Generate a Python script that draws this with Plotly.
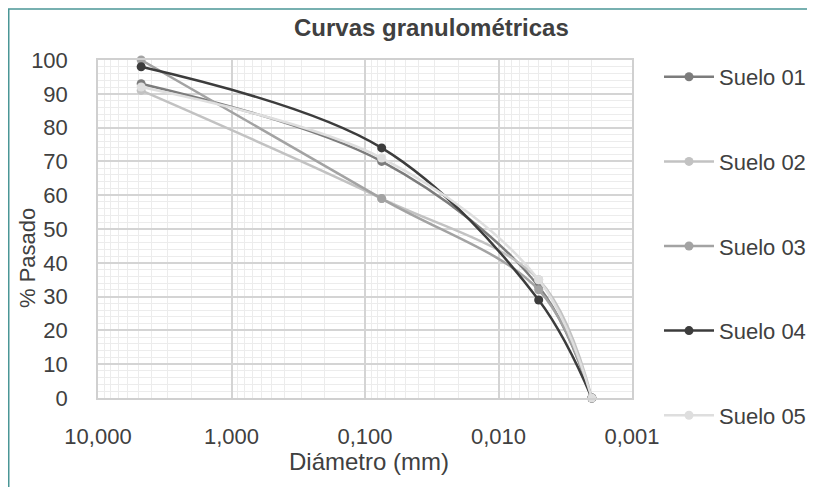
import plotly.graph_objects as go

# Data
diametro = [4.75, 0.075, 0.005, 0.002]
series_names = ["Suelo 01", "Suelo 02", "Suelo 03", "Suelo 04", "Suelo 05"]
suelo_01 = [93, 70, 33, 0]
suelo_02 = [91, 59, 35, 0]
suelo_03 = [100, 59, 32, 0]
suelo_04 = [98, 74, 29, 0]
suelo_05 = [92, 71, 35, 0]
x_tickvals = [10, 1, 0.1, 0.01, 0.001]
x_ticktext = ["10,000", "1,000", "0,100", "0,010", "0,001"]
y_tickvals = [0, 10, 20, 30, 40, 50, 60, 70, 80, 90, 100]

values = [suelo_01, suelo_02, suelo_03, suelo_04, suelo_05]
colors = ["#7c7c7c", "#c2c2c2", "#a3a3a3", "#3c3c3c", "#dedede"]

FONT = "Liberation Sans, Arial, sans-serif"
TXT = "#404040"

fig = go.Figure()
for i, (name, vals, col) in enumerate(zip(series_names, values, colors)):
    fig.add_trace(go.Scatter(
        x=diametro, y=vals, name=name, mode="lines+markers",
        line=dict(color=col, width=2.5, shape="spline", smoothing=1.0),
        marker=dict(color=col, size=9),
        cliponaxis=False, legendgroup=f"g{i}",
    ))

# The page body adds an 8px offset, so the figure is sized/positioned accordingly
OFF = 8
W, H = 815 - OFF, 487 - OFF
L, R, T, B = 90, 183, 52, 89
pw, ph = W - L - R, H - T - B

def px_x(p):
    return (p - L) / pw

def px_y(p):
    return (H - B - p) / ph

fig.update_layout(
    width=W, height=H,
    margin=dict(l=L, r=R, t=T, b=B, autoexpand=False),
    paper_bgcolor="white", plot_bgcolor="white",
    font=dict(family=FONT, size=22, color=TXT),
    showlegend=True,
    legend=dict(
        xref="container", yref="container",
        x=651 / W, y=1 - 48 / H, xanchor="left", yanchor="top",
        font=dict(size=22, color=TXT), tracegroupgap=53,
        itemwidth=50, bgcolor="rgba(0,0,0,0)", maxheight=1,
    ),
    xaxis=dict(
        type="log", range=[1, -3], autorange=False,
        tickvals=x_tickvals, ticktext=x_ticktext,
        showgrid=True, gridcolor="#d4d4d4", gridwidth=1.5,
        minor=dict(dtick="D1", showgrid=True, gridcolor="#ececec", gridwidth=1),
        showline=True, linecolor="#d0d0d0", linewidth=1.5, mirror=True,
        zeroline=False, ticks="", ticklabelstandoff=18,
        tickfont=dict(size=22, color=TXT),
    ),
    yaxis=dict(
        range=[0, 100], autorange=False,
        tickvals=y_tickvals,
        showgrid=True, gridcolor="#d4d4d4", gridwidth=1.5,
        minor=dict(dtick=2, showgrid=True, gridcolor="#ececec", gridwidth=1),
        showline=True, linecolor="#d0d0d0", linewidth=1.5, mirror=True,
        zeroline=False, ticks="", ticklabelstandoff=24,
        tickfont=dict(size=22, color=TXT),
    ),
    annotations=[
        dict(text="<b>Curvas granulométricas</b>", xref="paper", yref="paper",
             x=px_x(423), y=px_y(20), showarrow=False, xanchor="center",
             yanchor="middle", font=dict(size=24, color=TXT)),
        dict(text="% Pasado", xref="paper", yref="paper", textangle=-90,
             x=px_x(19), y=px_y(250), showarrow=False, xanchor="center",
             yanchor="middle", font=dict(size=22, color=TXT)),
        dict(text="Diámetro (mm)", xref="paper", yref="paper",
             x=px_x(361), y=px_y(453), showarrow=False, xanchor="center",
             yanchor="middle", font=dict(size=24, color=TXT)),
    ],
    shapes=[
        dict(type="line", xref="paper", yref="paper",
             x0=px_x(0), x1=px_x(W), y0=px_y(1), y1=px_y(1),
             line=dict(color="#4a9696", width=1.5)),
        dict(type="line", xref="paper", yref="paper",
             x0=px_x(0.75), x1=px_x(0.75), y0=px_y(1), y1=px_y(H),
             line=dict(color="#4a9696", width=1.5)),
    ],
)

fig.write_html("out.html")
